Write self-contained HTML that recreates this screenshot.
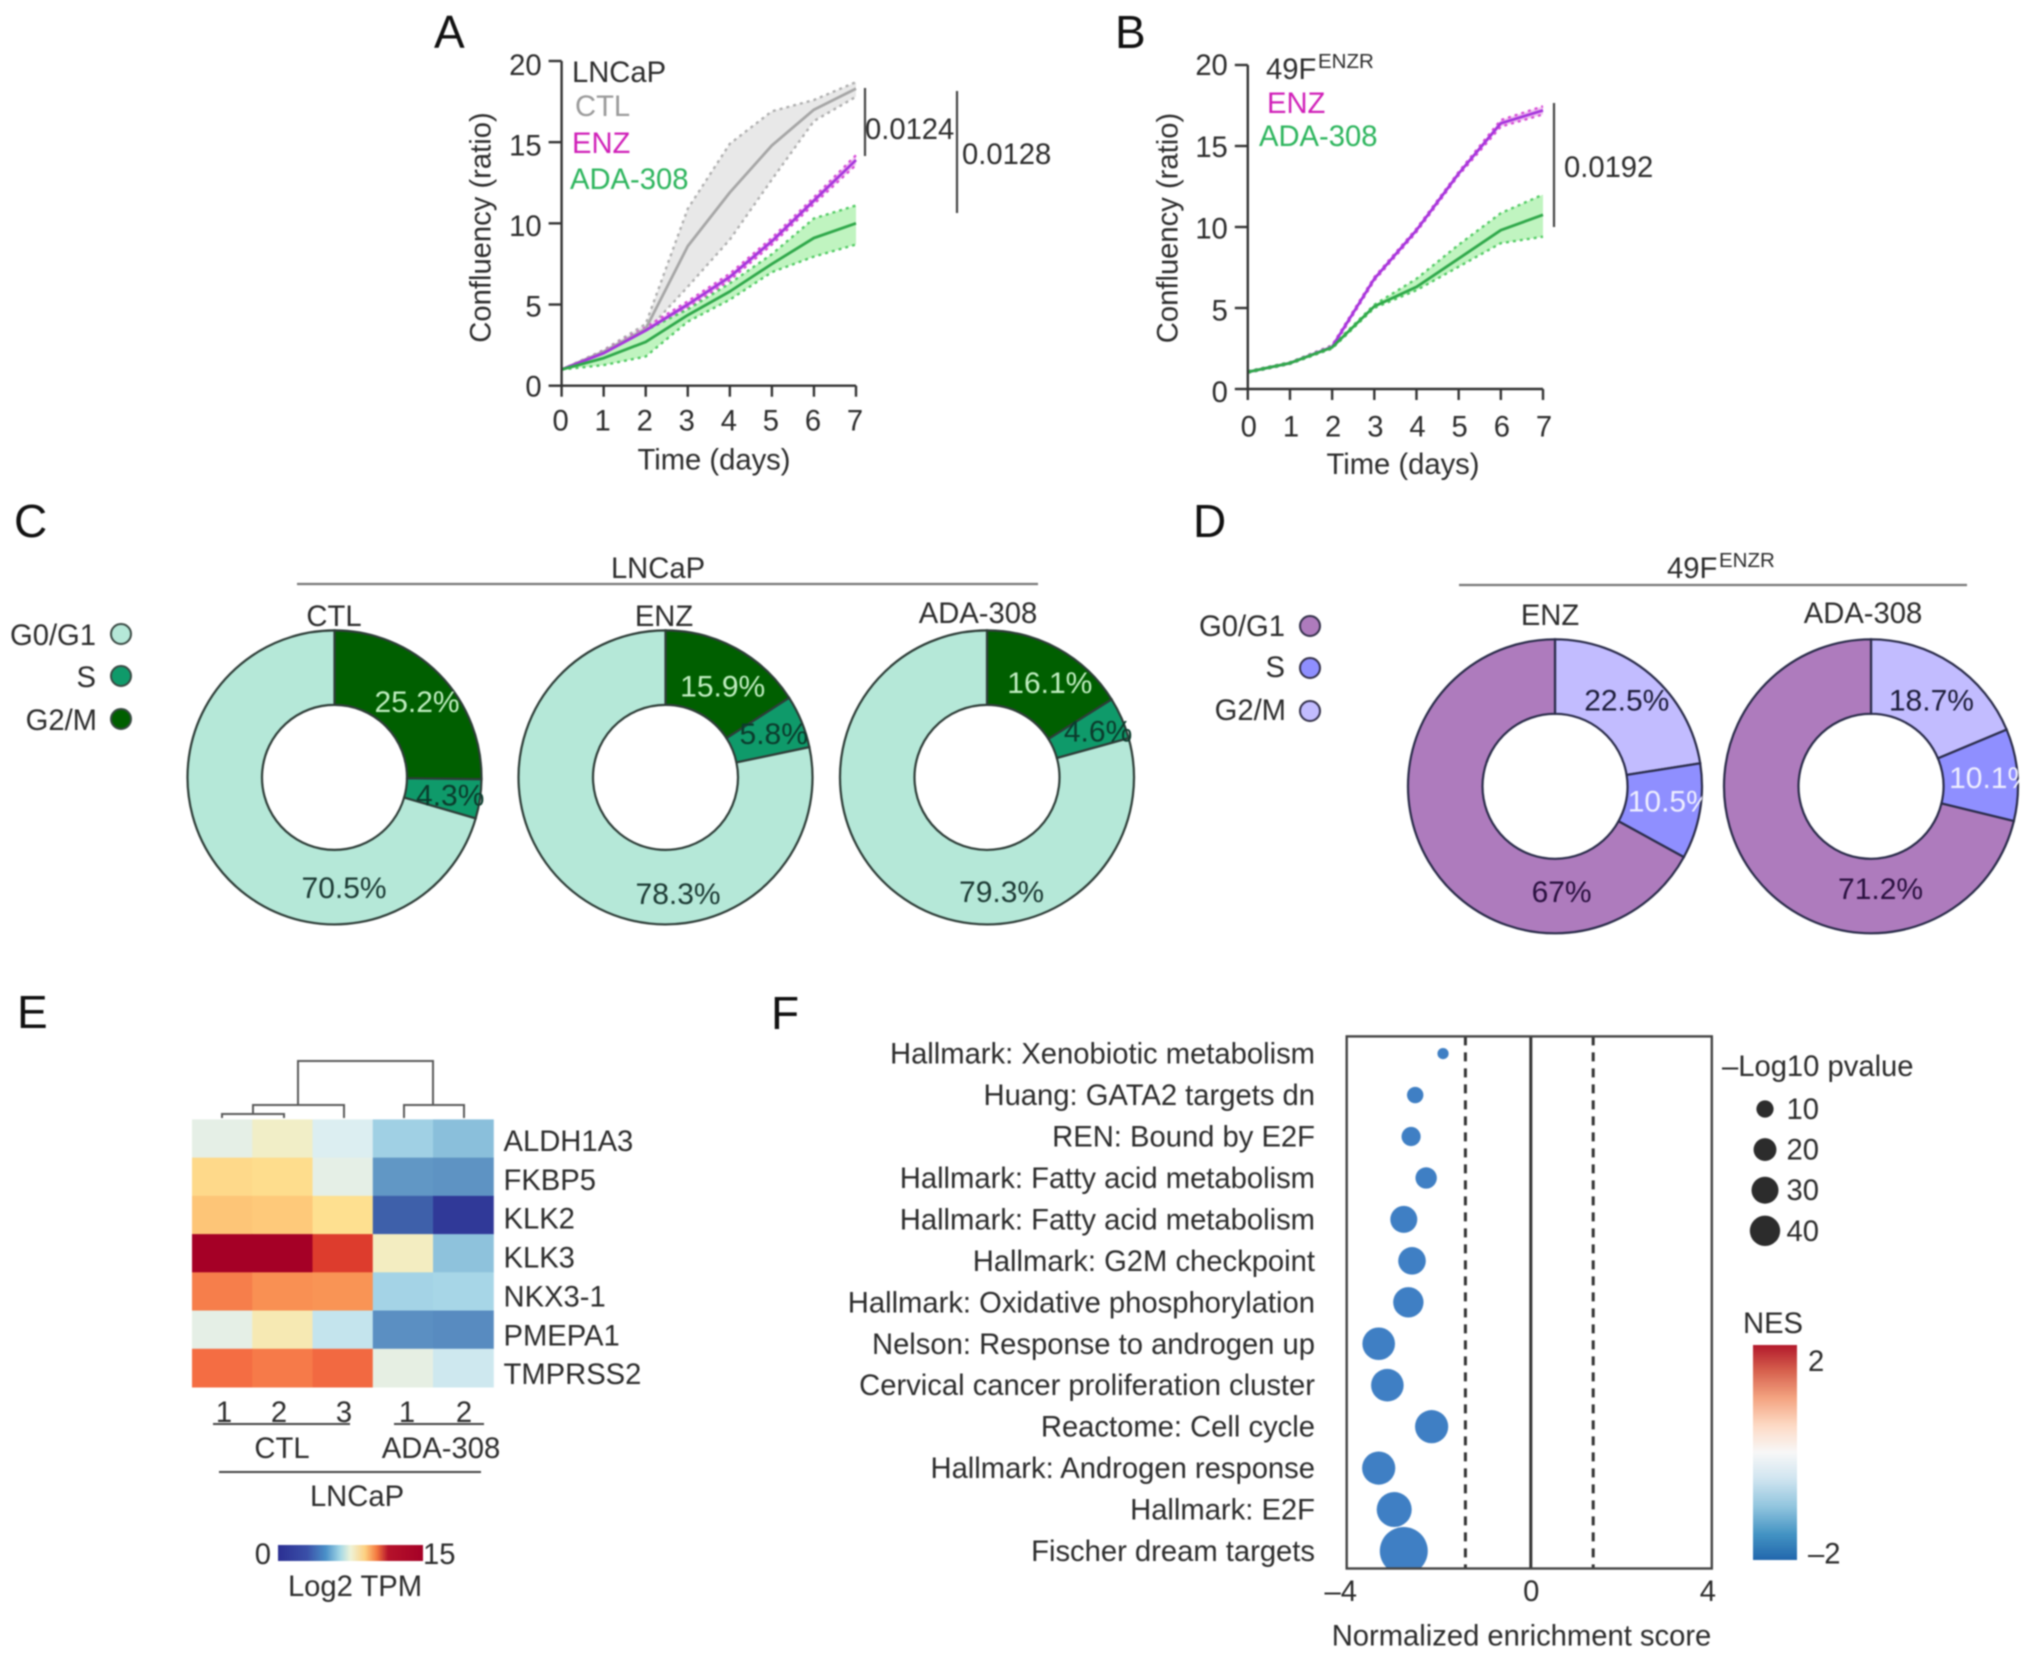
<!DOCTYPE html>
<html lang="en">
<head>
<meta charset="utf-8">
<title>Figure panels A-F</title>
<style>
html,body{margin:0;padding:0;background:#fff;width:2032px;height:1658px;overflow:hidden}
svg{display:block;filter:blur(0.7px)}
text{font-family:"Liberation Sans",sans-serif;font-size:29.2px;fill:#2c2c2c}
.letter{font-size:46px;fill:#111}
</style>
</head>
<body>
<svg id="figure" xmlns="http://www.w3.org/2000/svg" width="2032" height="1658" viewBox="0 0 2032 1658">
  <defs>
    <linearGradient id="heatBarGradient" x1="0" x2="1" y1="0" y2="0">
      <stop offset="0" stop-color="#2b2f92"/><stop offset="0.2" stop-color="#3a4fa8"/>
      <stop offset="0.33" stop-color="#4a90c8"/><stop offset="0.43" stop-color="#a5d8e6"/>
      <stop offset="0.5" stop-color="#eef3d8"/><stop offset="0.6" stop-color="#fdd080"/>
      <stop offset="0.68" stop-color="#f47a40"/><stop offset="0.76" stop-color="#b5122a"/>
      <stop offset="1" stop-color="#a50026"/>
    </linearGradient>
    <linearGradient id="nesBarGradient" x1="0" x2="0" y1="0" y2="1">
      <stop offset="0" stop-color="#b2182b"/><stop offset="0.12" stop-color="#d6604d"/>
      <stop offset="0.25" stop-color="#f4a582"/><stop offset="0.38" stop-color="#fddbc7"/>
      <stop offset="0.5" stop-color="#f7f7f7"/><stop offset="0.62" stop-color="#d1e5f0"/>
      <stop offset="0.75" stop-color="#92c5de"/><stop offset="0.88" stop-color="#4393c3"/>
      <stop offset="1" stop-color="#2166ac"/>
    </linearGradient>
    <clipPath id="gseaClip"><rect x="1346.7" y="1036.4" width="365.1" height="532.1"/></clipPath>
    <clipPath id="clipDonutD1"><rect x="1400" y="630" width="302" height="310"/></clipPath>
    <clipPath id="clipDonutD2"><rect x="1716" y="630" width="303" height="310"/></clipPath>
  </defs>

  <!-- Panel letters -->
  <text class="letter" x="434" y="48">A</text>
  <text class="letter" x="1115" y="48">B</text>
  <text class="letter" x="14" y="537">C</text>
  <text class="letter" x="1193" y="537">D</text>
  <text class="letter" x="17" y="1028">E</text>
  <text class="letter" x="771" y="1029">F</text>

  <!-- Panel A static text -->
  <g id="chartA"></g>
  <text transform="rotate(-90 490.5 227.5)" x="490.5" y="227.5" text-anchor="middle">Confluency (ratio)</text>
  <text x="714" y="469.5" text-anchor="middle">Time (days)</text>
  <text x="572" y="82">LNCaP</text>
  <text x="575" y="116" style="fill:#9a9a9a">CTL</text>
  <text x="572" y="153" style="fill:#d01fb8">ENZ</text>
  <text x="570" y="189" style="fill:#2db55d">ADA-308</text>
  <line x1="865" x2="865" y1="88" y2="156" stroke="#444" stroke-width="2.2"/>
  <line x1="957" x2="957" y1="91" y2="213" stroke="#444" stroke-width="2.2"/>
  <text x="865" y="139">0.0124</text>
  <text x="962" y="164">0.0128</text>

  <!-- Panel B static text -->
  <g id="chartB"></g>
  <text transform="rotate(-90 1177.5 228)" x="1177.5" y="228" text-anchor="middle">Confluency (ratio)</text>
  <text x="1403" y="474" text-anchor="middle">Time (days)</text>
  <text x="1266" y="79">49F</text>
  <text x="1318" y="68" style="font-size:20.5px">ENZR</text>
  <text x="1267" y="113" style="fill:#d01fb8">ENZ</text>
  <text x="1259" y="146" style="fill:#2db55d">ADA-308</text>
  <line x1="1554" x2="1554" y1="103" y2="227" stroke="#444" stroke-width="2.2"/>
  <text x="1564" y="177">0.0192</text>

  <!-- Panel C static text -->
  <text x="658" y="578" text-anchor="middle">LNCaP</text>
  <line x1="297" x2="1038" y1="584" y2="584" stroke="#777" stroke-width="2.2"/>
  <text x="96" y="645" text-anchor="end">G0/G1</text>
  <text x="96" y="687" text-anchor="end">S</text>
  <text x="97" y="730" text-anchor="end">G2/M</text>
  <circle cx="121" cy="634" r="10" fill="#b5e8d8" stroke="#3a4a44" stroke-width="2"/>
  <circle cx="121" cy="676" r="10" fill="#0f9a6a" stroke="#3a4a44" stroke-width="2"/>
  <circle cx="121" cy="719" r="10" fill="#005f00" stroke="#3a4a44" stroke-width="2"/>
  <text x="334" y="626" text-anchor="middle">CTL</text>
  <text x="664" y="626" text-anchor="middle">ENZ</text>
  <text x="978" y="623" text-anchor="middle">ADA-308</text>
  <g id="donutsC"></g>

  <!-- Panel D static text -->
  <text x="1667" y="578">49F</text>
  <text x="1719" y="567" style="font-size:20.5px">ENZR</text>
  <line x1="1459" x2="1967" y1="585" y2="585" stroke="#777" stroke-width="2.2"/>
  <text x="1285" y="636" text-anchor="end">G0/G1</text>
  <text x="1285" y="677" text-anchor="end">S</text>
  <text x="1286" y="720" text-anchor="end">G2/M</text>
  <circle cx="1310" cy="626" r="10" fill="#ae7bbd" stroke="#33304a" stroke-width="2"/>
  <circle cx="1310" cy="668" r="10" fill="#8f8fff" stroke="#33304a" stroke-width="2"/>
  <circle cx="1310" cy="711" r="10" fill="#c2bcff" stroke="#33304a" stroke-width="2"/>
  <text x="1550" y="625" text-anchor="middle">ENZ</text>
  <text x="1863" y="623" text-anchor="middle">ADA-308</text>
  <g id="donutsD"></g>

  <!-- Panel E -->
  <path fill="none" stroke="#5a5a5a" stroke-width="2"
        d="M298 1105V1061H433V1105M253 1114V1105H344V1118M404 1118V1105H464V1118M222 1118V1114H284V1118"/>
  <g id="heatmap"></g>
  <text x="224" y="1422" text-anchor="middle">1</text>
  <text x="279" y="1422" text-anchor="middle">2</text>
  <text x="344" y="1422" text-anchor="middle">3</text>
  <text x="407" y="1422" text-anchor="middle">1</text>
  <text x="464" y="1422" text-anchor="middle">2</text>
  <line x1="213" x2="350" y1="1424" y2="1424" stroke="#444" stroke-width="2"/>
  <line x1="394" x2="484" y1="1424" y2="1424" stroke="#444" stroke-width="2"/>
  <text x="282" y="1458" text-anchor="middle">CTL</text>
  <text x="441" y="1458" text-anchor="middle">ADA-308</text>
  <line x1="219" x2="481" y1="1472" y2="1472" stroke="#444" stroke-width="2"/>
  <text x="357" y="1506" text-anchor="middle">LNCaP</text>
  <rect x="278" y="1545" width="145" height="16" fill="url(#heatBarGradient)"/>
  <text x="271" y="1564" text-anchor="end">0</text>
  <text x="423" y="1564">15</text>
  <text x="355" y="1596" text-anchor="middle">Log2 TPM</text>

  <!-- Panel F -->
  <g id="gsea"></g>
  <text x="1521.5" y="1645.5" text-anchor="middle">Normalized enrichment score</text>
  <text x="1722" y="1076">–Log10 pvalue</text>
  <text x="1743" y="1333">NES</text>
  <rect x="1753" y="1345" width="44" height="215" fill="url(#nesBarGradient)"/>
  <text x="1808" y="1371">2</text>
  <text x="1808" y="1563.5">–2</text>
</svg>

<script>
// ---------- Panels A and B: growth curves ----------
const days = [0, 1, 2, 3, 4, 5, 6, 7];
const confluencyTicks = [0, 5, 10, 15, 20];

const ctlMeanA  = [1.0, 2.1, 3.5, 8.6, 11.9, 14.8, 17.0, 18.3];
const ctlUpperA = [1.0, 2.2, 3.8, 10.9, 14.9, 16.9, 17.6, 18.7];
const ctlLowerA = [1.0, 2.0, 3.3, 6.1, 9.0, 12.7, 16.3, 17.8];
const enzMeanA  = [1.0, 2.0, 3.4, 5.0, 6.7, 8.9, 11.4, 13.9];
const enzUpperA = [1.0, 2.15, 3.6, 5.2, 6.9, 9.1, 11.6, 14.2];
const enzLowerA = [1.0, 1.85, 3.2, 4.8, 6.5, 8.7, 11.2, 13.6];
const adaMeanA  = [1.0, 1.7, 2.7, 4.35, 5.8, 7.5, 9.1, 10.0];
const adaUpperA = [1.0, 2.1, 3.4, 4.7, 6.3, 8.1, 10.3, 11.1];
const adaLowerA = [1.0, 1.27, 1.8, 3.95, 5.3, 7.0, 7.95, 8.7];

const enzMeanB  = [1.05, 1.6, 2.6, 6.8, 9.8, 13.3, 16.4, 17.2];
const enzUpperB = [1.1, 1.65, 2.7, 6.9, 9.9, 13.4, 16.6, 17.45];
const enzLowerB = [1.0, 1.55, 2.5, 6.7, 9.7, 13.2, 16.2, 16.95];
const adaMeanB  = [1.05, 1.6, 2.57, 5.1, 6.3, 8.05, 9.8, 10.75];
const adaUpperB = [1.1, 1.65, 2.65, 5.2, 6.8, 8.9, 10.85, 12.0];
const adaLowerB = [1.0, 1.55, 2.5, 5.0, 6.1, 7.55, 9.0, 9.4];

// ---------- Panels C and D: cell-cycle donuts (G2/M, S, G0/G1) ----------
const phaseNames = ['g2m', 's', 'g0g1'];
const lncapCtl = [25.2, 4.3, 70.5];
const lncapEnz = [15.9, 5.8, 78.3];
const lncapAda = [16.1, 4.6, 79.3];
const enzrEnz  = [22.5, 10.5, 67];
const enzrAda  = [18.7, 10.1, 71.2];

// ---------- Panel E: heatmap ----------
const geneNames = ['ALDH1A3', 'FKBP5', 'KLK2', 'KLK3', 'NKX3-1', 'PMEPA1', 'TMPRSS2'];
const aldh1a3Tpm = [6.4, 7.4, 5.9, 4.2, 3.6];
const fkbp5Tpm   = [9.2, 9.1, 6.4, 2.4, 2.3];
const klk2Tpm    = [9.8, 9.7, 9.0, 1.0, 0.1];
const klk3Tpm    = [15, 15, 13.2, 7.6, 3.7];
const nkx31Tpm   = [11.6, 11.2, 11.1, 4.3, 4.4];
const pmepa1Tpm  = [6.4, 8.0, 5.2, 2.2, 2.1];
const tmprss2Tpm = [12.0, 11.7, 12.1, 6.5, 5.5];

// ---------- Panel F: GSEA dots ----------
const pathwayNames = ['Hallmark: Xenobiotic metabolism', 'Huang: GATA2 targets dn', 'REN: Bound by E2F',
  'Hallmark: Fatty acid metabolism', 'Hallmark: Fatty acid metabolism', 'Hallmark: G2M checkpoint',
  'Hallmark: Oxidative phosphorylation', 'Nelson: Response to androgen up', 'Cervical cancer proliferation cluster',
  'Reactome: Cell cycle', 'Hallmark: Androgen response', 'Hallmark: E2F', 'Fischer dream targets'];
const nesValues = [-1.89, -2.5, -2.59, -2.26, -2.75, -2.57, -2.65, -3.3, -3.11, -2.14, -3.3, -2.96, -2.75];
const logPValues = [3.5, 8.9, 13, 17, 30, 31.7, 40, 47.6, 47.6, 49.7, 49.7, 56.6, 122];
const sizeLegendValues = [10, 20, 30, 40];
const nesTicks = [-4, 0, 4];
const nesThresholds = [-1.4, 1.4];

const NS = 'http://www.w3.org/2000/svg';
function make(parent, tag, attrs, txt) {
  const el = document.createElementNS(NS, tag);
  for (const k in attrs) el.setAttribute(k, attrs[k]);
  if (txt !== undefined) el.textContent = txt;
  parent.appendChild(el);
  return el;
}

// ---------- Line charts ----------
function drawChart(host, prefix, box, seriesList) {
  const x = d => box.left + (box.right - box.left) * d / 7;
  const y = v => box.zero + (box.top - box.zero) * v / 20;
  const toPts = vals => vals.map((v, i) => x(days[i]).toFixed(1) + ',' + y(v).toFixed(1)).join(' ');

  seriesList.forEach(s => {
    const revUpper = s.lower.slice().reverse().map((v, i) => x(days[days.length - 1 - i]).toFixed(1) + ',' + y(v).toFixed(1)).join(' ');
    const band = make(host, 'polygon', {points: toPts(s.upper) + ' ' + revUpper, fill: s.band});
    
    
    const up = make(host, 'polyline', {points: toPts(s.upper), fill: 'none', stroke: s.dot, 'stroke-width': 2.4, 'stroke-dasharray': '3 4'});
    
    
    const lo = make(host, 'polyline', {points: toPts(s.lower), fill: 'none', stroke: s.dot, 'stroke-width': 2.4, 'stroke-dasharray': '3 4'});
    
    
  });
  seriesList.forEach(s => {
    const line = make(host, 'polyline', {points: toPts(s.mean), fill: 'none', stroke: s.line, 'stroke-width': 2.8, 'stroke-linejoin': 'round'});
    
    
  });

  const yAxis = make(host, 'line', {x1: box.left, x2: box.left, y1: box.top, y2: box.zero, stroke: '#333', 'stroke-width': 2.4});
  
  
  const xAxis = make(host, 'line', {x1: box.left, x2: box.right, y1: box.zero, y2: box.zero, stroke: '#333', 'stroke-width': 2.4});
  
  

  confluencyTicks.forEach(t => {
    const tick = make(host, 'line', {x1: box.left - 13, x2: box.left, y1: y(t), y2: y(t), stroke: '#333', 'stroke-width': 2.4});
    
    
    const label = make(host, 'text', {x: box.left - 20, y: y(t) + box.yLabelBase + t * box.yLabelSlope, 'text-anchor': 'end'}, String(t));
    
    
  });
  days.forEach(d => {
    const tick = make(host, 'line', {x1: x(d), x2: x(d), y1: box.zero, y2: box.zero + 11, stroke: '#333', 'stroke-width': 2.4});
    
    
    const label = make(host, 'text', {x: x(d) + box.xLabelShift, y: box.zero + box.xLabelDrop, 'text-anchor': 'middle'}, String(d));
    
    
  });
}

drawChart(document.getElementById('chartA'), 'chart-a', {left: 561.6, right: 856, top: 61, zero: 385.7, yLabelBase: 11, yLabelSlope: 0.15, xLabelShift: -1, xLabelDrop: 45}, [
  {name: 'ctl', mean: ctlMeanA, upper: ctlUpperA, lower: ctlLowerA, band: '#e8e8e8', dot: '#b0b0b0', line: '#a6a6a6'},
  {name: 'enz', mean: enzMeanA, upper: enzUpperA, lower: enzLowerA, band: '#f0c8f0', dot: '#d84fd8', line: '#a636dc'},
  {name: 'ada-308', mean: adaMeanA, upper: adaUpperA, lower: adaLowerA, band: '#c0f4c0', dot: '#55cc66', line: '#2fa84a'}
]);
drawChart(document.getElementById('chartB'), 'chart-b', {left: 1247.8, right: 1543, top: 65, zero: 389, yLabelBase: 13, yLabelSlope: -0.15, xLabelShift: 1, xLabelDrop: 47.5}, [
  {name: 'enz', mean: enzMeanB, upper: enzUpperB, lower: enzLowerB, band: '#f0c8f0', dot: '#d84fd8', line: '#a636dc'},
  {name: 'ada-308', mean: adaMeanB, upper: adaUpperB, lower: adaLowerB, band: '#c0f4c0', dot: '#55cc66', line: '#2fa84a'}
]);

// ---------- Donuts ----------
function polar(cx, cy, r, deg) {
  const a = (deg - 90) * Math.PI / 180;
  return [cx + r * Math.cos(a), cy + r * Math.sin(a)];
}
function sectorPath(cx, cy, R, r, a0, a1) {
  const large = a1 - a0 > 180 ? 1 : 0;
  const p0 = polar(cx, cy, R, a0), p1 = polar(cx, cy, R, a1);
  const p2 = polar(cx, cy, r, a1), p3 = polar(cx, cy, r, a0);
  return 'M' + p0[0] + ' ' + p0[1] + 'A' + R + ' ' + R + ' 0 ' + large + ' 1 ' + p1[0] + ' ' + p1[1] +
         'L' + p2[0] + ' ' + p2[1] + 'A' + r + ' ' + r + ' 0 ' + large + ' 0 ' + p3[0] + ' ' + p3[1] + 'Z';
}
function drawDonut(host, name, cx, cy, values, style, nudge, clip) {
  let start = 0;
  const labels = [];
  values.forEach((v, i) => {
    const sweep = v * 3.6;
    const slice = make(host, 'path', {d: sectorPath(cx, cy, 147, 72.5, start, start + sweep), fill: style.fills[i], stroke: style.stroke, 'stroke-width': 2.2});
    
    
    const angle = v > 50 ? 175 : start + sweep / 2;
    const radius = v > 50 ? 110 : (v < 12 ? 117 : 109);
    labels.push({v: v, i: i, p: polar(cx, cy, radius, angle)});
    start += sweep;
  });
  labels.forEach(l => {
    const attrs = {x: l.p[0] + nudge[l.i * 2], y: l.p[1] + 11 + nudge[l.i * 2 + 1], 'text-anchor': 'middle', style: 'font-size:30px;fill:' + style.text[l.i]};
    if (clip) attrs['clip-path'] = 'url(#' + clip + ')';
    const t = make(host, 'text', attrs, l.v + '%');
    
    
  });
}
const greenStyle = {fills: ['#005f00', '#0f9a6a', '#b5e8d8'], stroke: '#2e3d38', text: ['#c0eec0', '#0b3b2c', '#1c3a34']};
const purpleStyle = {fills: ['#c2bcff', '#8f8fff', '#ae7bbd'], stroke: '#2a2c4a', text: ['#1e1e3c', '#eeeeff', '#2a1040']};
const donutsC = document.getElementById('donutsC');
const donutsD = document.getElementById('donutsD');
drawDonut(donutsC, 'donut-ctl', 334.5, 777.4, lncapCtl, greenStyle, [5, 0, 0, 0, 0, 0]);
drawDonut(donutsC, 'donut-enz', 665.5, 777.4, lncapEnz, greenStyle, [5, 4, 0, 0, 3, 6]);
drawDonut(donutsC, 'donut-ada-308', 987, 777.4, lncapAda, greenStyle, [10, 0, 4, 0, 5, 4]);
drawDonut(donutsD, 'donut-d-enz', 1555, 786.3, enzrEnz, purpleStyle, [1, -4, 0, -6, -3, -5], 'clipDonutD1');
drawDonut(donutsD, 'donut-d-ada-308', 1871, 786.3, enzrAda, purpleStyle, [0, 4, 4, 0, 0, -8], 'clipDonutD2');

// ---------- Heatmap ----------
const heatColorStops = ['#2f3596', '#4575b4', '#74add1', '#abd9e9', '#e0f0f2', '#f2eec4', '#fee090', '#fdae61', '#f46d43', '#d73027', '#a50026'];
function hexToRgb(h) { return [1, 3, 5].map(i => parseInt(h.substr(i, 2), 16)); }
function heatColor(v) {
  const t = Math.max(0, Math.min(1, v / 15)) * (heatColorStops.length - 1);
  const i = Math.min(heatColorStops.length - 2, Math.floor(t));
  const a = hexToRgb(heatColorStops[i]), b = hexToRgb(heatColorStops[i + 1]);
  const f = t - i;
  return 'rgb(' + a.map((c, k) => Math.round(c + (b[k] - c) * f)).join(',') + ')';
}
const heatRows = [aldh1a3Tpm, fkbp5Tpm, klk2Tpm, klk3Tpm, nkx31Tpm, pmepa1Tpm, tmprss2Tpm];
const heatHost = document.getElementById('heatmap');
const heatLeft = 192, heatTop = 1119.4, heatW = 301.3 / 5, heatH = 267.6 / 7;
heatRows.forEach((row, r) => {
  row.forEach((v, c) => {
    const cell = make(heatHost, 'rect', {x: heatLeft + c * heatW, y: heatTop + r * heatH, width: heatW + 0.5, height: heatH + 0.5, fill: heatColor(v)});
    
    
  });
  const label = make(heatHost, 'text', {x: 503.5, y: 1151 + r * 38.85}, geneNames[r]);
  
  
});

// ---------- GSEA dot plot ----------
const gseaHost = document.getElementById('gsea');
const gseaX = v => 1529.3 + v * 45.64;
const gseaY = i => 1053.6 + i * 41.45;
const dotRadius = p => 8.6 * Math.pow(p / 10, 0.41);

nesThresholds.forEach(v => {
  const dash = make(gseaHost, 'line', {x1: gseaX(v), x2: gseaX(v), y1: 1036.4, y2: 1568.5, stroke: '#333', 'stroke-width': 3, 'stroke-dasharray': '9 7'});
  
  
});
const zeroLine = make(gseaHost, 'line', {x1: gseaX(0) + 1.5, x2: gseaX(0) + 1.5, y1: 1036.4, y2: 1568.5, stroke: '#333', 'stroke-width': 3});



pathwayNames.forEach((name, i) => {
  const label = make(gseaHost, 'text', {x: 1315, y: gseaY(i) + 10, 'text-anchor': 'end'}, name);
  
  
  const dot = make(gseaHost, 'circle', {cx: gseaX(nesValues[i]), cy: gseaY(i), r: dotRadius(logPValues[i]), fill: '#3f7fc4', 'clip-path': 'url(#gseaClip)'});
  
  
});
const gseaFrame = make(gseaHost, 'rect', {x: 1346.7, y: 1036.4, width: 365.1, height: 532.1, fill: 'none', stroke: '#444', 'stroke-width': 2.4});



nesTicks.forEach(t => {
  const label = make(gseaHost, 'text', {x: t === 0 ? gseaX(t) + 2 : (t < 0 ? gseaX(t) - 6 : gseaX(t) - 4), y: 1601, 'text-anchor': 'middle'}, t < 0 ? '–' + Math.abs(t) : String(t));
  
  
});
sizeLegendValues.forEach((p, i) => {
  const cy = 1109 + i * 40.6;
  const dot = make(gseaHost, 'circle', {cx: 1765, cy: cy, r: dotRadius(p), fill: '#2c2c2c'});
  
  
  const label = make(gseaHost, 'text', {x: 1786.5, y: cy + 10}, String(p));
  
  
});
</script>
</body>
</html>
